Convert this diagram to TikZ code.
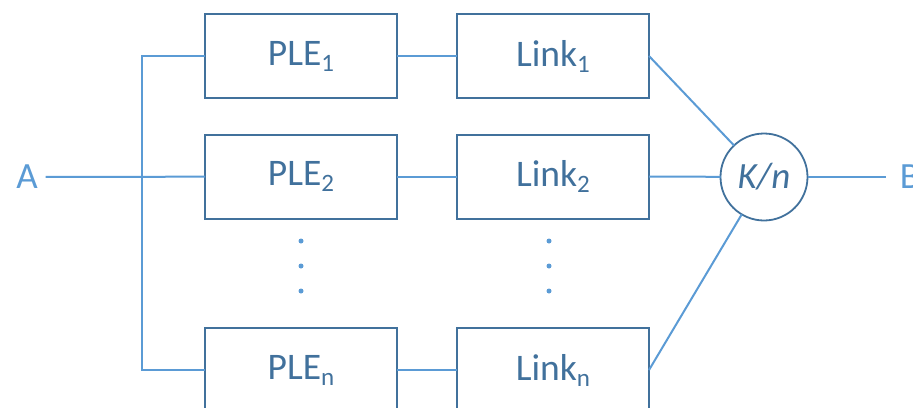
\documentclass[tikz,border=0pt]{standalone}
\usepackage{fontspec}
\setmainfont{Carlito}
\definecolor{boxblue}{HTML}{41719C}
\definecolor{lineblue}{HTML}{5B9BD5}
\newcommand{\lowidx}[1]{\raisebox{-6pt}{\fontsize{25}{25}\selectfont #1}}
\tikzset{
  blk/.style={draw=boxblue, line width=2pt, text=boxblue, minimum width=192pt, minimum height=84pt, inner sep=0pt, outer sep=0pt, font=\fontsize{37.5}{42}\selectfont},
  voter/.style={circle, draw=boxblue, line width=1.8pt, text=boxblue, minimum size=87pt, inner sep=0pt, outer sep=0pt, font=\fontsize{37}{42}\selectfont\itshape},
  lbl/.style={text=lineblue, inner sep=8pt, outer sep=0pt, font=\fontsize{37}{42}\selectfont},
  wire/.style={draw=lineblue, line width=2pt}
}
\begin{document}
\begin{tikzpicture}[x=1pt,y=-1pt]
\useasboundingbox (0,0) rectangle (913,407);
\clip (0,0) rectangle (913,407);
% blocks
\node[blk] (ple1) at (301,56) {PLE\lowidx{1}};
\node[blk] (ple2) at (301,176.5) {PLE\lowidx{2}};
\node[blk] (plen) at (301,370) {PLE\lowidx{n}};
\node[blk] (link1) at (553,56) {Link\lowidx{1}};
\node[blk] (link2) at (553,176.5) {Link\lowidx{2}};
\node[blk] (linkn) at (553,370) {Link\lowidx{n}};
\node[voter] (kn) at (764,177) {K/n};
\node[lbl] (A) at (27,177) {A};
\node[lbl, inner xsep=14pt] (B) at (910,177) {B};
% connectors
\draw[wire] (A) -- (ple2);
\draw[wire] (ple1.west) -- ++(-63,0) |- (plen.west);
\foreach \r in {1,2,n}
{
    \draw[wire] (ple\r) -- (link\r);
    \draw[wire] (link\r.east) -- (kn);
}
\draw[wire] (kn) -- (B);
% dots
\foreach \y in {241,266,291}
{
    \fill[lineblue] (301,\y) circle(2.5);
    \fill[lineblue] (549,\y) circle(2.5);
}
\end{tikzpicture}
\end{document}
